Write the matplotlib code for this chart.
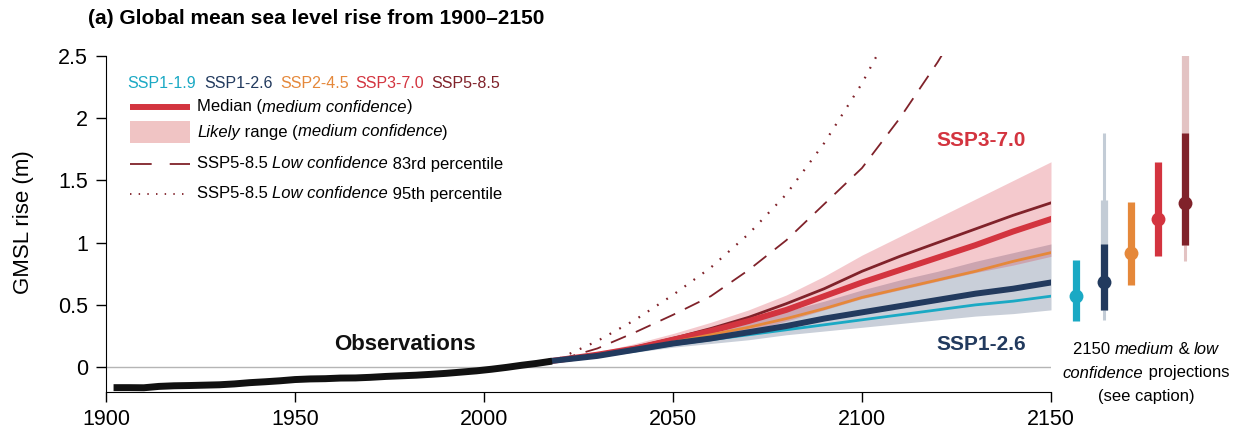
import matplotlib
matplotlib.use('Agg')
import matplotlib.pyplot as plt
from matplotlib.patches import Rectangle

plt.rcParams['font.family'] = ['Liberation Sans Narrow', 'Liberation Sans', 'DejaVu Sans']

# observed GMSL (m)
obs_years = [1902, 1906, 1910, 1914, 1918, 1922, 1926, 1930, 1934, 1938, 1942, 1946, 1950, 1954, 1958,
             1962, 1966, 1970, 1974, 1978, 1982, 1986, 1990, 1994, 1998, 2002, 2006, 2010, 2014, 2018]
obs_gmsl = [-0.165, -0.165, -0.166, -0.155, -0.150, -0.148, -0.145, -0.142, -0.135, -0.125, -0.118, -0.110,
            -0.100, -0.095, -0.093, -0.088, -0.087, -0.082, -0.075, -0.070, -0.065, -0.058, -0.050, -0.040,
            -0.030, -0.017, -0.002, 0.015, 0.030, 0.048]

# projections, medians (medium confidence)
proj_years = [2018, 2030, 2040, 2050, 2060, 2070, 2080, 2090, 2100, 2110, 2120, 2130, 2140, 2150]
ssp119 = [0.05, 0.09, 0.13, 0.18, 0.22, 0.26, 0.30, 0.34, 0.38, 0.42, 0.46, 0.50, 0.53, 0.57]
ssp126 = [0.05, 0.09, 0.14, 0.19, 0.23, 0.28, 0.33, 0.39, 0.44, 0.49, 0.54, 0.59, 0.63, 0.68]
ssp245 = [0.05, 0.09, 0.14, 0.20, 0.26, 0.32, 0.39, 0.47, 0.56, 0.63, 0.70, 0.77, 0.85, 0.92]
ssp370 = [0.05, 0.10, 0.15, 0.22, 0.29, 0.37, 0.46, 0.57, 0.68, 0.78, 0.88, 0.98, 1.09, 1.19]
ssp585 = [0.05, 0.10, 0.16, 0.23, 0.31, 0.40, 0.51, 0.63, 0.77, 0.89, 1.00, 1.11, 1.22, 1.32]

# likely ranges
ssp126_lo = [0.045, 0.08, 0.12, 0.16, 0.19, 0.22, 0.26, 0.29, 0.32, 0.35, 0.38, 0.41, 0.43, 0.46]
ssp126_hi = [0.055, 0.11, 0.17, 0.25, 0.30, 0.37, 0.45, 0.53, 0.62, 0.70, 0.77, 0.85, 0.92, 0.99]
ssp370_lo = [0.045, 0.08, 0.13, 0.18, 0.23, 0.29, 0.37, 0.46, 0.55, 0.62, 0.69, 0.76, 0.82, 0.89]
ssp370_hi = [0.055, 0.12, 0.19, 0.27, 0.36, 0.46, 0.58, 0.73, 0.90, 1.05, 1.20, 1.35, 1.50, 1.65]

# SSP5-8.5 low confidence percentiles
p83_years = [2020, 2030, 2040, 2050, 2060, 2070, 2080, 2090, 2100, 2110, 2120, 2130]
p83 = [0.06, 0.15, 0.28, 0.42, 0.57, 0.78, 1.02, 1.31, 1.60, 2.00, 2.45, 2.95]
p95_years = [2020, 2030, 2040, 2050, 2060, 2070, 2080, 2090, 2100, 2110]
p95 = [0.07, 0.21, 0.38, 0.58, 0.80, 1.07, 1.39, 1.80, 2.28, 2.85]

# 2150 summary
ssp_names = ['SSP1-1.9', 'SSP1-2.6', 'SSP2-4.5', 'SSP3-7.0', 'SSP5-8.5']
ssp_colors = ['#1aa9c4', '#223a5e', '#e5883a', '#d3343f', '#80222a']
med_2150 = [0.57, 0.68, 0.92, 1.19, 1.32]
likely_lo_2150 = [0.37, 0.46, 0.66, 0.89, 0.98]
likely_hi_2150 = [0.86, 0.99, 1.33, 1.65, 1.88]
lowconf_names = ['SSP1-2.6', 'SSP5-8.5']
lowconf_colors = ['#c3ccd6', '#e3c3c3']
lowconf_p17 = [0.46, 0.98]
lowconf_p83 = [1.34, 4.82]
lowconf_p05 = [0.38, 0.85]
lowconf_p95 = [1.88, 5.40]

ytick_vals = [0, 0.5, 1, 1.5, 2, 2.5]
ytick_labels = ['0', '0.5', '1', '1.5', '2', '2.5']
xtick_vals = [1900, 1950, 2000, 2050, 2100, 2150]

W, H = 1234, 438
AX_L, AX_R, AX_T, AX_B = 106, 1051, 56, 392
fig = plt.figure(figsize=(W / 100, H / 100), dpi=100)
ax = fig.add_axes([AX_L / W, (H - AX_B) / H, (AX_R - AX_L) / W, (AX_B - AX_T) / H])
ax2 = fig.add_axes([1060 / W, (H - AX_B) / H, 141.6 / W, (AX_B - AX_T) / H])

c119, c126, c245, c370, c585 = ssp_colors

ax.axhline(0, color='#b5b5b5', lw=1, zorder=0)
ax.fill_between(proj_years, ssp126_lo, ssp126_hi, color='#c9cfd9', lw=0, zorder=1)
ax.fill_between(proj_years, ssp370_lo, ssp370_hi, color='#d62839', alpha=0.25, lw=0, zorder=2)

ax.plot(p95_years, p95, color=c585, lw=1.6, dashes=(0.8, 4.2), zorder=3)
ax.plot(p83_years, p83, color=c585, lw=1.3, dashes=(9, 6), zorder=3)
ax.plot(proj_years, ssp585, color=c585, lw=2.0, zorder=4)
ax.plot(proj_years, ssp370, color=c370, lw=4.3, zorder=4)
ax.plot(proj_years, ssp245, color=c245, lw=2.0, zorder=4)
ax.plot(proj_years, ssp119, color=c119, lw=2.0, zorder=4)
ax.plot(proj_years, ssp126, color=c126, lw=4.3, zorder=5)
ax.plot(obs_years, obs_gmsl, color='#111111', lw=5.0, solid_capstyle='butt', zorder=6)

ax.set_xlim(1900, 2150)
ax.set_ylim(-0.2, 2.5)
ax.set_xticks(xtick_vals)
ax.set_yticks(ytick_vals)
ax.set_yticklabels(ytick_labels)
for s in ['top', 'right']:
    ax.spines[s].set_visible(False)
ax.tick_params(axis='both', labelsize=15.5, direction='out', length=7, width=1)
ax.tick_params(axis='x', pad=5)
ax.tick_params(axis='y', pad=6)

ax.text(1979, 0.18, 'Observations', fontsize=16, weight='bold', ha='center', va='center', color='#111111')
ax.text(2131.5, 1.82, 'SSP3-7.0', fontsize=15, weight='bold', ha='center', va='center', color=c370)
ax.text(2131.5, 0.18, 'SSP1-2.6', fontsize=15, weight='bold', ha='center', va='center', color=c126)

fig.text(88 / W, 1 - 18 / H, '(a) Global mean sea level rise from 1900\u20132150', fontsize=15,
         weight='bold', ha='left', va='center')
fig.text(23 / W, (H - 222) / H, 'GMSL rise (m)', fontsize=16, rotation=90, ha='center', va='center')


def rich_text(x, y, parts, transform, size):
    # parts: list of (string, text kwargs); pieces are chained left to right
    s, kw = parts[0]
    t = ax.text(x, y, s, transform=transform, fontsize=size, ha='left', va='center', **kw)
    pieces = [t]
    for s, kw in parts[1:]:
        t = ax.annotate(s, xy=(1, 0), xycoords=t, va='bottom', ha='left', fontsize=size,
                        annotation_clip=False, **kw)
        pieces.append(t)
    return pieces


def fx(px):
    return (px - AX_L) / (AX_R - AX_L)


def fy(py):
    return (AX_B - py) / (AX_B - AX_T)


# legend
leg_size = 12
name_x = [127, 204, 280, 355, 431]
for n, c, px in zip(ssp_names, ssp_colors, name_x):
    ax.text(fx(px), fy(83), n, transform=ax.transAxes, fontsize=11.5, color=c, ha='left', va='center')
ax.plot([fx(130), fx(190)], [fy(107), fy(107)], transform=ax.transAxes, color=c370, lw=4.3,
        solid_capstyle='butt', clip_on=False)
rich_text(fx(197), fy(107), [('Median (', {}), ('medium confidence', {'style': 'italic'}), (')', {})],
          ax.transAxes, leg_size)
ax.add_patch(Rectangle((fx(130), fy(143)), fx(190) - fx(130), fy(121) - fy(143), transform=ax.transAxes,
                       facecolor='#f0c4c4', lw=0, clip_on=False))
rich_text(fx(197), fy(132), [('Likely', {'style': 'italic'}), (' range (', {}),
                             ('medium confidence', {'style': 'italic'}), (')', {})], ax.transAxes, leg_size)
ax.plot([fx(130), fx(190)], [fy(164), fy(164)], transform=ax.transAxes, color=c585, lw=1.3,
        dashes=(12, 10), clip_on=False)
rich_text(fx(197), fy(164), [('SSP5-8.5 ', {}), ('Low confidence', {'style': 'italic'}),
                             (' 83rd percentile', {})], ax.transAxes, leg_size)
ax.plot([fx(130), fx(190)], [fy(194), fy(194)], transform=ax.transAxes, color=c585, lw=1.3,
        dashes=(0.8, 4), clip_on=False)
rich_text(fx(197), fy(194), [('SSP5-8.5 ', {}), ('Low confidence', {'style': 'italic'}),
                             (' 95th percentile', {})], ax.transAxes, leg_size)

# 2150 panel
for name, col, lo, hi, p05, p95v in zip(lowconf_names, lowconf_colors, lowconf_p17, lowconf_p83,
                                        lowconf_p05, lowconf_p95):
    i = ssp_names.index(name)
    ax2.vlines(i, p05, p95v, color=col, lw=2.2)
    ax2.vlines(i, lo, hi, color=col, lw=5.2)
for i, (col, m, lo, hi) in enumerate(zip(ssp_colors, med_2150, likely_lo_2150, likely_hi_2150)):
    ax2.vlines(i, lo, hi, color=col, lw=5.2)
    ax2.plot(i, m, 'o', color=col, ms=10, mec='none')
ax2.set_xlim(-0.6, 4.6)
ax2.set_ylim(-0.2, 2.5)
ax2.axis('off')

cap_size = 12
cap_x = 1146
cap_lines = [
    [('2150 ', {}), ('medium', {'style': 'italic'}), (' & ', {}), ('low', {'style': 'italic'})],
    [('confidence', {'style': 'italic'}), (' projections', {})],
    [('(see caption)', {})],
]
cap_y = [350, 373, 396]
groups = [rich_text(cap_x / W, (H - y) / H, parts, fig.transFigure, cap_size) for parts, y in zip(cap_lines, cap_y)]
fig.canvas.draw()
r = fig.canvas.get_renderer()
for g in groups:
    x0 = g[0].get_window_extent(r).x0
    x1 = g[-1].get_window_extent(r).x1
    g[0].set_x(cap_x / W - (x1 - x0) / 2 / W)

fig.savefig('out.png', dpi=100)
